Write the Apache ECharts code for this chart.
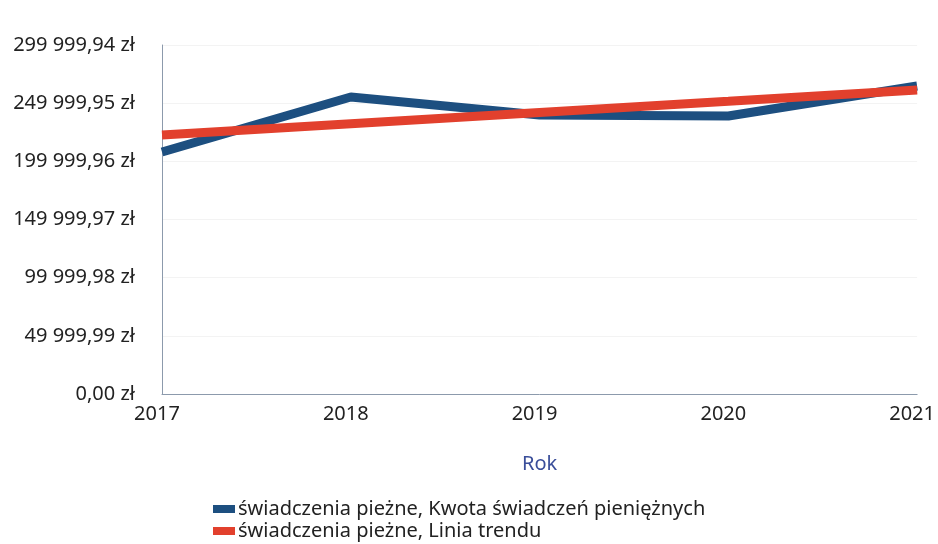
<!DOCTYPE html>
<html>
<head>
<meta charset="utf-8">
<script src="https://cdn.jsdelivr.net/npm/echarts@6/dist/echarts.min.js"></script>
<style>
  html, body { margin: 0; padding: 0; background: #fff; }
  #chart { width: 938px; height: 544px; }
</style>
</head>
<body>
<div id="chart"></div>
<script>
// dane
var years = ['2017', '2018', '2019', '2020', '2021'];
var kwota = [208000, 255300, 239800, 239000, 264800];
var trend = [222600, 232300, 242000, 251600, 261300];
var seriesNames = ['świadczenia pieżne, Kwota świadczeń pieniężnych', 'świadczenia pieżne, Linia trendu'];

var yStep = 49999.99;
var yMax = 299999.94;

function fmtZl(v) {
    var s = Math.abs(v).toFixed(2).split('.');
    var intPart = s[0].replace(/\B(?=(\d{3})+(?!\d))/g, ' ');
    return intPart + ',' + s[1] + ' zł';
}

var chart = echarts.init(document.getElementById('chart'));
var font = '"Noto Sans", "Open Sans", sans-serif';

// jedna legenda na serię, ułożone pod sobą
function legendFor(name, top) {
    return {
        left: 208,
        top: top,
        itemWidth: 22,
        itemHeight: 8,
        icon: 'rect',
        textStyle: {fontSize: 20, color: '#222', fontFamily: font, padding: [0, 0, 0, -2]},
        data: [name]
    };
}

chart.setOption({
    animation: false,
    textStyle: {fontFamily: font},
    grid: {left: 162, right: 20, top: 45, bottom: 150},
    legend: [legendFor(seriesNames[0], 494), legendFor(seriesNames[1], 516)],
    xAxis: {
        type: 'category',
        boundaryGap: false,
        data: years,
        name: 'Rok',
        nameLocation: 'middle',
        nameGap: 60,
        nameTextStyle: {fontSize: 20, color: '#3a4e9a', fontFamily: font},
        axisLine: {show: true, lineStyle: {color: '#8c9aac', width: 1}},
        axisTick: {show: false},
        axisLabel: {fontSize: 20, color: '#222', margin: 10, fontFamily: font, padding: [0, 10, 0, 0]},
        splitLine: {show: false}
    },
    yAxis: {
        type: 'value',
        min: 0,
        max: yMax,
        interval: yStep,
        axisLine: {show: true, lineStyle: {color: '#8c9aac', width: 1}},
        axisTick: {show: false},
        axisLabel: {
            fontSize: 20,
            color: '#222',
            margin: 27,
            fontFamily: font,
            formatter: function (v) { return fmtZl(v); }
        },
        splitLine: {show: true, lineStyle: {color: '#f3f3f3', width: 1}}
    },
    series: [
        {
            name: seriesNames[0],
            type: 'line',
            data: kwota,
            symbol: 'none',
            lineStyle: {color: '#1d4f80', width: 9},
            itemStyle: {color: '#1d4f80'}
        },
        {
            name: seriesNames[1],
            type: 'line',
            data: trend,
            symbol: 'none',
            lineStyle: {color: '#e2402d', width: 9},
            itemStyle: {color: '#e2402d'}
        }
    ]
});
</script>
</body>
</html>
